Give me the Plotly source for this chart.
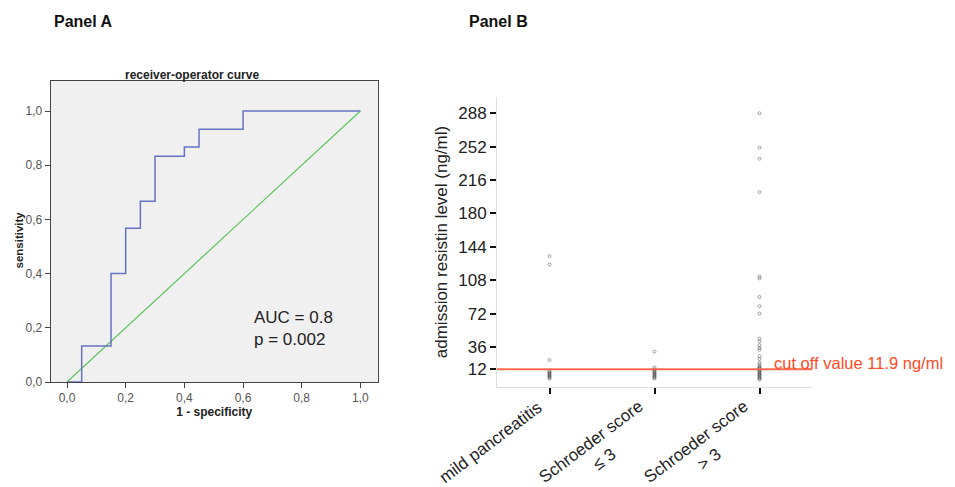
import plotly.graph_objects as go

# ---------------- data ----------------
# Panel A: ROC curve (1 - specificity, sensitivity)
roc_fpr = [0.0, 0.05, 0.15, 0.20, 0.25, 0.30, 0.40, 0.45, 0.60, 1.0]
roc_tpr = [0.0, 0.133, 0.40, 0.567, 0.667, 0.833, 0.867, 0.933, 1.0, 1.0]
ref_x = [0.0, 1.0]
ref_y = [0.0, 1.0]
roc_ticks = [0.0, 0.2, 0.4, 0.6, 0.8, 1.0]
roc_ticktext = ["0,0", "0,2", "0,4", "0,6", "0,8", "1,0"]

# Panel B: admission resistin level (ng/ml) per group
categories = ["mild pancreatitis", "Schroeder score<br>≤ 3", "Schroeder score<br>> 3"]
mild = [134, 125, 22, 10, 9, 8, 7, 6, 5, 4, 3, 2]
sch_le3 = [31, 14, 12, 11, 10, 9, 8, 7, 6, 5, 4, 3, 2]
sch_gt3 = [288, 251, 239, 203, 112, 110, 90, 80, 72, 45, 42, 38, 35, 33,
           26, 23, 19, 17, 15, 14, 13, 12, 11, 10, 9, 8, 7, 6, 5, 4, 3, 2, 1]
res_ticks = [12, 36, 72, 108, 144, 180, 216, 252, 288]
cutoff = 11.9

FONT = "Liberation Sans, Arial, sans-serif"
OFF = 8  # page body margin
W, H = 955 - OFF, 487 - OFF

fig = go.Figure()

# ---- Panel A ----
fig.add_trace(go.Scatter(x=ref_x, y=ref_y, mode="lines",
                         line=dict(color="#5cc45c", width=1.2),
                         xaxis="x", yaxis="y", showlegend=False, hoverinfo="skip"))
fig.add_trace(go.Scatter(x=roc_fpr, y=roc_tpr, mode="lines", line_shape="hv",
                         line=dict(color="#6673c4", width=1.5),
                         xaxis="x", yaxis="y", showlegend=False))

# ---- Panel B ----
groups = [mild, sch_le3, sch_gt3]
for cat, vals in zip(categories, groups):
    fig.add_trace(go.Scatter(x=[cat] * len(vals), y=vals, mode="markers",
                             marker=dict(symbol="circle-open", size=3,
                                         color="rgba(60,60,60,0.45)",
                                         line=dict(width=1)),
                             xaxis="x2", yaxis="y2", showlegend=False))


def px_x(p):
    return (p - OFF) / W


def px_y(p):
    return 1 - (p - OFF) / H


fig.update_layout(
    width=W, height=H,
    margin=dict(l=0, r=0, t=0, b=0),
    paper_bgcolor="white",
    plot_bgcolor="white",
    font=dict(family=FONT, color="#222"),
    xaxis=dict(domain=[px_x(50.7), px_x(377.7)], range=[-0.0556, 1.059],
               tickvals=roc_ticks, ticktext=roc_ticktext, automargin=False,
               ticks="outside", ticklen=5, tickcolor="#444",
               showline=True, linecolor="#444", mirror=True, linewidth=1,
               showgrid=False, zeroline=False,
               tickfont=dict(size=12, color="#555"),
               title=dict(text="<b>1 - specificity</b>", font=dict(size=12, color="#222"),
                          standoff=3),
               anchor="y"),
    yaxis=dict(domain=[px_y(382), px_y(80.7)], range=[0, 1.112],
               tickvals=roc_ticks, ticktext=roc_ticktext, automargin=False,
               ticks="outside", ticklen=5, tickcolor="#444",
               showline=True, linecolor="#444", mirror=True, linewidth=1,
               showgrid=False, zeroline=False,
               tickfont=dict(size=12, color="#555"),
               anchor="x"),
    xaxis2=dict(domain=[px_x(497), px_x(812)], range=[-0.5, 2.5],
                type="category", categoryorder="array", categoryarray=categories,
                automargin=False, showticklabels=False,
                ticks="outside", ticklen=6, tickcolor="#111", tickwidth=2,
                showline=True, linecolor="#ddd", linewidth=1,
                showgrid=False, zeroline=False,
                anchor="y2"),
    yaxis2=dict(domain=[px_y(386.7), px_y(97.3)], range=[-6.8, 305.2],
                tickvals=res_ticks, ticks="outside", ticklen=6, tickcolor="#111",
                tickwidth=2, automargin=False,
                showline=True, linecolor="#ddd", linewidth=1,
                showgrid=False, zeroline=False,
                tickfont=dict(size=17, color="#222"),
                title=dict(text="admission resistin level (ng/ml)",
                           font=dict(size=17, color="#222"), standoff=6),
                anchor="x2"),
)

fig.add_shape(type="rect", xref="x domain", yref="y domain", x0=0, x1=1, y0=0, y1=1,
              fillcolor="#f0f0f0", line=dict(width=0), layer="below")
fig.add_shape(type="line", xref="x2 domain", yref="y2", x0=0, x1=1,
              y0=cutoff, y1=cutoff, line=dict(color="#ff6a4d", width=2))

# rotated category labels (centered multi-line, as in the reference)
label_shift = [-59, -57, -57]
label_y = [442, 450, 450]
for cat, dx, yy in zip(categories, label_shift, label_y):
    fig.add_annotation(text=cat, xref="x2", yref="paper", x=cat, y=px_y(yy),
                       xshift=dx, textangle=-37, align="center",
                       xanchor="center", yanchor="middle", showarrow=False,
                       font=dict(size=17, color="#222"))

fig.add_annotation(text="<b>sensitivity</b>", xref="paper", yref="paper",
                   x=px_x(18.5), y=px_y(240), textangle=-90, showarrow=False,
                   xanchor="center", yanchor="middle", font=dict(size=11.5, color="#222"))
fig.add_annotation(text="<b>receiver-operator curve</b>", xref="paper", yref="paper",
                   x=px_x(192), y=px_y(75), showarrow=False, font=dict(size=12, color="#222"),
                   xanchor="center", yanchor="middle")
fig.add_annotation(text="AUC = 0.8<br>p = 0.002", xref="x", yref="y",
                   x=0.63, y=0.199, showarrow=False, align="left",
                   xanchor="left", yanchor="middle", font=dict(size=17, color="#222"))
fig.add_annotation(text="<b>Panel A</b>", xref="paper", yref="paper",
                   x=px_x(52), y=px_y(21), xanchor="left", yanchor="middle",
                   showarrow=False, font=dict(size=16, color="#111"))
fig.add_annotation(text="<b>Panel B</b>", xref="paper", yref="paper",
                   x=px_x(467), y=px_y(21), xanchor="left", yanchor="middle",
                   showarrow=False, font=dict(size=16, color="#111"))
fig.add_annotation(text="cut off value 11.9 ng/ml", xref="paper", yref="paper",
                   x=px_x(772), y=px_y(363), xanchor="left", yanchor="middle",
                   showarrow=False, font=dict(size=16.5, color="#ff4a26"))

fig.write_html("out.html")
